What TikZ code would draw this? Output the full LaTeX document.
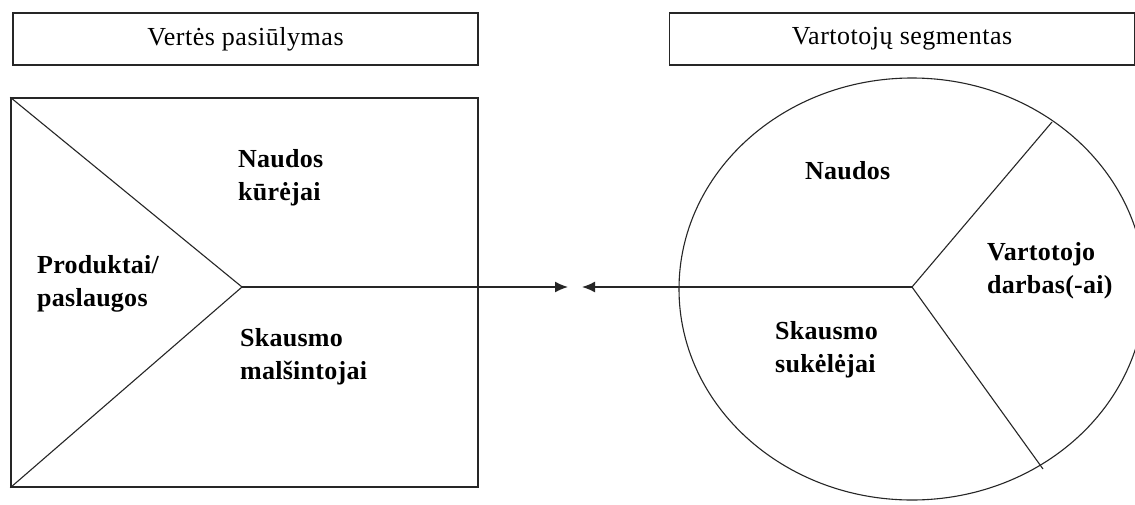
\documentclass[tikz,border=0pt]{standalone}
\usepackage{fontspec}
\setmainfont{Liberation Serif}
\usetikzlibrary{arrows.meta,shapes.geometric}

\tikzset{
  hdr/.style={draw=black!85, line width=1.4pt, inner sep=0pt,
    minimum width=465pt, minimum height=52pt,
    font=\fontsize{26}{30}\selectfont\addfontfeature{LetterSpace=2}},
  frame/.style={draw=black!85, line width=1.4pt, inner sep=0pt},
  thin/.style={draw=black!85, line width=1.1pt},
  mid/.style={draw=black!85, line width=1.5pt},
  arr/.style={mid, -{Latex[length=13pt,width=11pt]}},
  % multi-line labels: the base anchor sits on the last line's baseline
  lbl/.style={anchor=base west, align=left, inner sep=0pt,
    font=\fontsize{26}{33}\selectfont\bfseries\addfontfeature{LetterSpace=1}}
}

\begin{document}
\begin{tikzpicture}[x=1pt, y=-1pt]
  \clip (0,0) rectangle (1135,504);
  \fill[white] (0,0) rectangle (1135,504);

  % title boxes
  \node[hdr] (vp) at (245.5,39) {Vertės pasiūlymas};
  \node[hdr] (vs) at (902,39) {Vartotojų segmentas};

  % value proposition square with its arrow-shaped split
  \node[frame, minimum width=467pt, minimum height=389pt] (sq) at (244.5,292.5) {};
  \coordinate (apex) at (242,287);
  \draw[thin] (sq.north west) -- (apex) -- (sq.south west);

  % customer segment ellipse with three sectors
  \node[frame, line width=1.1pt, ellipse,
        minimum width=466pt, minimum height=422pt] (seg) at (912,289) {};
  \coordinate (hub) at (912,287);
  \coordinate (upper) at (1052,122);
  \coordinate (lower) at (1043,469);
  \draw[thin] (upper) -- (hub) -- (lower);

  % fit arrows meeting in the middle
  \coordinate (tipL) at (568,287);
  \coordinate (tipR) at (582,287);
  \draw[arr] (apex) -- (tipL);
  \draw[arr] (hub) -- (tipR);

  % sector labels
  \node[lbl] (gc) at (238,200) {Naudos\\kūrėjai};
  \node[lbl] (ps) at (37,306) {Produktai/\\paslaugos};
  \node[lbl] (pr) at (240,379) {Skausmo\\malšintojai};
  \node[lbl] (ga) at (805,179) {Naudos};
  \node[lbl] (jb) at (987,293) {Vartotojo\\darbas(-ai)};
  \node[lbl] (pn) at (775,372) {Skausmo\\sukėlėjai};
\end{tikzpicture}
\end{document}
